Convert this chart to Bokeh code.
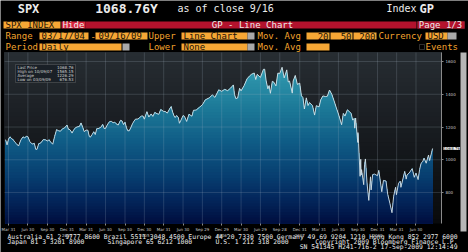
import numpy as np
import pandas as pd
from bokeh.plotting import figure
from bokeh.models import Range1d, FixedTicker, BoxAnnotation, Label
from bokeh.embed import file_html
from bokeh.resources import INLINE

# ---------------- data ----------------
dates = [
    "2004-03-17", "2004-03-24", "2004-03-31", "2004-04-07", "2004-04-15", "2004-04-21", "2004-04-30",
    "2004-05-07", "2004-05-17", "2004-05-28", "2004-06-07", "2004-06-15", "2004-06-23", "2004-06-30",
    "2004-07-09", "2004-07-16", "2004-07-23", "2004-07-30", "2004-08-06", "2004-08-12", "2004-08-20",
    "2004-08-31", "2004-09-10", "2004-09-20", "2004-09-30", "2004-10-08", "2004-10-15", "2004-10-25",
    "2004-11-03", "2004-11-12", "2004-11-22", "2004-11-30", "2004-12-10", "2004-12-20", "2004-12-31",
    "2005-01-07", "2005-01-14", "2005-01-24", "2005-01-31", "2005-02-10", "2005-02-18", "2005-02-28",
    "2005-03-07", "2005-03-15", "2005-03-22", "2005-03-31", "2005-04-08", "2005-04-15", "2005-04-20",
    "2005-04-29", "2005-05-06", "2005-05-13", "2005-05-20", "2005-05-31", "2005-06-10", "2005-06-17",
    "2005-06-24", "2005-06-30", "2005-07-08", "2005-07-15", "2005-07-22", "2005-07-29", "2005-08-05",
    "2005-08-12", "2005-08-19", "2005-08-29", "2005-09-09", "2005-09-16", "2005-09-23", "2005-09-30",
    "2005-10-07", "2005-10-13", "2005-10-20", "2005-10-28", "2005-11-04", "2005-11-11", "2005-11-18",
    "2005-11-30", "2005-12-09", "2005-12-16", "2005-12-23", "2005-12-30",
    "2006-01-11", "2006-01-20", "2006-01-31", "2006-02-08", "2006-02-17", "2006-02-28", "2006-03-08",
    "2006-03-17", "2006-03-31", "2006-04-07", "2006-04-17", "2006-04-28", "2006-05-05", "2006-05-12",
    "2006-05-19", "2006-05-24", "2006-05-31", "2006-06-08", "2006-06-13", "2006-06-20", "2006-06-30",
    "2006-07-07", "2006-07-17", "2006-07-28", "2006-08-11", "2006-08-18", "2006-08-31", "2006-09-15",
    "2006-09-29", "2006-10-13", "2006-10-31", "2006-11-15", "2006-11-27", "2006-12-15", "2006-12-29",
    "2007-01-12", "2007-01-26", "2007-02-09", "2007-02-22", "2007-02-27", "2007-03-05", "2007-03-14",
    "2007-03-23", "2007-03-30", "2007-04-13", "2007-04-27", "2007-05-09", "2007-05-18", "2007-05-31",
    "2007-06-07", "2007-06-14", "2007-06-29", "2007-07-13", "2007-07-19", "2007-07-26", "2007-08-03",
    "2007-08-09", "2007-08-15", "2007-08-24", "2007-08-31", "2007-09-10", "2007-09-19", "2007-09-28",
    "2007-10-09", "2007-10-19", "2007-10-31", "2007-11-07", "2007-11-13", "2007-11-26", "2007-11-30",
    "2007-12-10", "2007-12-20", "2007-12-31",
    "2008-01-08", "2008-01-15", "2008-01-22", "2008-01-31", "2008-02-08", "2008-02-15", "2008-02-29",
    "2008-03-10", "2008-03-18", "2008-03-31", "2008-04-08", "2008-04-18", "2008-04-30", "2008-05-09",
    "2008-05-19", "2008-05-30", "2008-06-10", "2008-06-20", "2008-06-30", "2008-07-15", "2008-07-23",
    "2008-07-31", "2008-08-11", "2008-08-22", "2008-08-29", "2008-09-05", "2008-09-12", "2008-09-15",
    "2008-09-19", "2008-09-29", "2008-09-30", "2008-10-03", "2008-10-10", "2008-10-13", "2008-10-15",
    "2008-10-17", "2008-10-27", "2008-10-31", "2008-11-04", "2008-11-12", "2008-11-20", "2008-11-28",
    "2008-12-01", "2008-12-08", "2008-12-16", "2008-12-31",
    "2009-01-06", "2009-01-20", "2009-01-28", "2009-02-09", "2009-02-17", "2009-02-27", "2009-03-09",
    "2009-03-17", "2009-03-26", "2009-03-30", "2009-04-09", "2009-04-17", "2009-04-20", "2009-05-08",
    "2009-05-15", "2009-05-19", "2009-05-29", "2009-06-12", "2009-06-22", "2009-06-30", "2009-07-10",
    "2009-07-17", "2009-07-24", "2009-07-31", "2009-08-07", "2009-08-17", "2009-08-28", "2009-09-02",
    "2009-09-11", "2009-09-16",
]
spx = [
    1123, 1091, 1126, 1140, 1128, 1124, 1107,
    1098, 1084, 1121, 1140, 1133, 1144, 1141,
    1112, 1101, 1096, 1101, 1064, 1064, 1098,
    1104, 1123, 1122, 1115, 1122, 1108, 1095,
    1143, 1184, 1177, 1174, 1189, 1195, 1212,
    1186, 1184, 1163, 1181, 1197, 1201, 1204,
    1225, 1198, 1172, 1181, 1181, 1142, 1138,
    1156, 1171, 1154, 1189, 1192, 1201, 1216,
    1191, 1191, 1211, 1227, 1234, 1234, 1226,
    1230, 1220, 1212, 1241, 1237, 1215, 1229,
    1195, 1177, 1177, 1198, 1220, 1235, 1248,
    1249, 1259, 1267, 1268, 1248,
    1294, 1261, 1280, 1265, 1289, 1281, 1278,
    1307, 1295, 1295, 1285, 1311, 1325, 1291,
    1267, 1258, 1270, 1257, 1223, 1241, 1270,
    1265, 1234, 1278, 1266, 1302, 1304, 1320,
    1336, 1366, 1378, 1396, 1381, 1427, 1418,
    1430, 1422, 1438, 1457, 1399, 1374, 1377,
    1436, 1421, 1452, 1494, 1512, 1522, 1530,
    1490, 1522, 1503, 1552, 1553, 1482, 1433,
    1453, 1406, 1479, 1474, 1451, 1529, 1527,
    1565, 1500, 1549, 1475, 1481, 1407, 1481,
    1515, 1460, 1468,
    1390, 1380, 1310, 1378, 1331, 1349, 1331,
    1273, 1330, 1323, 1366, 1390, 1386, 1388,
    1426, 1400, 1358, 1318, 1280, 1214, 1283,
    1267, 1305, 1292, 1283, 1242, 1252, 1193,
    1255, 1106, 1166, 1099, 899, 1003, 907,
    940, 848, 969, 1005, 853, 752, 896,
    816, 909, 913, 903,
    935, 805, 874, 870, 789, 735, 677,
    778, 832, 787, 857, 869, 832, 929,
    882, 908, 919, 946, 893, 919, 879,
    940, 979, 987, 1010, 979, 1029, 995,
    1042, 1069,
]

tick_dates = [
    "2004-03-31", "2004-06-30", "2004-09-30", "2004-12-31",
    "2005-03-31", "2005-06-30", "2005-09-30", "2005-12-30",
    "2006-03-31", "2006-06-30", "2006-09-29", "2006-12-29",
    "2007-03-30", "2007-06-29", "2007-09-28", "2007-12-31",
    "2008-03-31", "2008-06-30", "2008-09-30", "2008-12-31",
    "2009-03-31", "2009-06-30",
]
tick_labels = [
    "Mar 31", "Jun 30", "Sep 30", "Dec 31\n2004",
    "Mar 31", "Jun 30", "Sep 30", "Dec 30\n2005",
    "Mar 31", "Jun 30", "Sep 29", "Dec 29\n2006",
    "Mar 30", "Jun 29", "Sep 28", "Dec 31\n2007",
    "Mar 31", "Jun 30", "Sep 30", "Dec 31\n2008",
    "Mar 31", "Jun 30",
]
price_ticks = [800, 1000, 1200, 1400, 1600]

legend_names = ["Last Price", "High on 10/09/07", "Average", "Low on 03/09/09"]
legend_values = ["1068.76", "1565.15", "1226.29", "676.53"]
last_price = 1068.76

# ---------------- layout & styles ----------------
W, H = 468, 252
CH_LEFT, CH_RIGHT, CH_TOP, CH_BOTTOM = 4, 441, 52, 223   # chart panel in canvas pixels
X_START, X_END = pd.Timestamp("2004-03-12"), pd.Timestamp("2009-10-28")
Y_LO, Y_HI = 611, 1655

MONO = "DejaVu Sans Mono"
ORANGE = "#f4a42e"
BOXORANGE = "#f6a735"
INK = "#1a1208"
RED = "#b3122d"
GREY = "#a9a9a9"
WHITE = "#ececec"

fill_stops = [(611, "#000e3e"), (750, "#03255a"), (900, "#073e70"), (1100, "#0f5b85"),
              (1300, "#1b7796"), (1500, "#2c92aa"), (1655, "#48adbf")]
bg_stops = [(611, "#090a0c"), (1000, "#131619"), (1300, "#1c2025"), (1655, "#272d33")]


def interp(stops, v):
    vs = [s[0] for s in stops]
    cols = [tuple(int(s[1][i:i + 2], 16) for i in (1, 3, 5)) for s in stops]
    rgb = [np.interp(v, vs, [c[k] for c in cols]) for k in range(3)]
    return "#%02x%02x%02x" % tuple(int(round(c)) for c in rgb)


x = pd.to_datetime(dates)
price = np.array(spx, dtype=float)

xs_ms, xe_ms = X_START.value / 1e6, X_END.value / 1e6
ms_per_px = (xe_ms - xs_ms) / (CH_RIGHT - CH_LEFT)
u_per_px = (Y_HI - Y_LO) / (CH_BOTTOM - CH_TOP)
x_range = Range1d(xs_ms - CH_LEFT * ms_per_px, xe_ms + (W - CH_RIGHT) * ms_per_px)
y_range = Range1d(Y_LO - (H - CH_BOTTOM) * u_per_px, Y_HI + CH_TOP * u_per_px)

p = figure(width=W, height=H, x_axis_type="datetime", y_axis_location="right",
           x_range=x_range, y_range=y_range,
           output_backend="svg", toolbar_location=None,
           min_border_left=0, min_border_right=0, min_border_top=0, min_border_bottom=0,
           background_fill_color="#000000", border_fill_color="#000000",
           outline_line_color=None)
p.grid.visible = False

# chart background gradient
bg_edges = np.linspace(Y_LO, Y_HI, 41)
for i in range(40):
    c = interp(bg_stops, (bg_edges[i] + bg_edges[i + 1]) / 2)
    p.quad(left=xs_ms, right=xe_ms, bottom=bg_edges[i], top=Y_HI, fill_color=c, line_color=None)

# area with vertical gradient
fe = np.linspace(Y_LO, Y_HI, 61)
for i in range(59, -1, -1):
    if fe[i] > price.max():
        continue
    c = interp(fill_stops, (fe[i] + fe[i + 1]) / 2)
    p.varea(x=x, y1=Y_LO, y2=np.minimum(price, fe[i + 1]), fill_color=c)

# grid lines (over the area, limited to the chart panel)
tick_ms = [int(pd.Timestamp(d).value // 10**6) for d in tick_dates]
p.segment(x0=tick_ms, x1=tick_ms, y0=Y_LO, y1=Y_HI, line_color="#a8b8c8", line_alpha=0.2, line_width=1)
p.segment(x0=xs_ms, x1=xe_ms, y0=price_ticks, y1=price_ticks, line_color="#a8b8c8", line_alpha=0.2, line_width=1)

p.line(x, price, line_color="#d6e2e8", line_width=0.9)

# axes placed at the chart panel edges
xa = p.xaxis[0]
xa.fixed_location = Y_LO
xa.bounds = (xs_ms, xe_ms)
xa.ticker = FixedTicker(ticks=tick_ms)
xa.major_label_overrides = {t: l for t, l in zip(tick_ms, tick_labels)}
xa.major_label_text_font_size = "4px"
xa.major_label_text_color = "#c8c8c8"
xa.major_label_text_font = "DejaVu Sans"
xa.axis_line_color = None
xa.major_tick_line_color = "#8a8a8a"
xa.major_tick_out = 2
xa.major_tick_in = 0
xa.minor_tick_line_color = None
xa.major_label_standoff = 1

ya = p.yaxis[0]
ya.fixed_location = xe_ms
ya.bounds = (Y_LO, Y_HI)
ya.ticker = FixedTicker(ticks=price_ticks)
ya.major_label_text_font_size = "4px"
ya.major_label_text_color = "#c8c8c8"
ya.major_label_text_font = "DejaVu Sans"
ya.axis_line_color = "#8a8a8a"
ya.major_tick_line_color = "#8a8a8a"
ya.major_tick_out = 2
ya.major_tick_in = 0
ya.minor_tick_line_color = None
ya.major_label_standoff = 2


def box(l, t, r, b, color, line=None):
    p.add_layout(BoxAnnotation(left=l, right=r, top=t, bottom=b,
                               left_units="canvas", right_units="canvas",
                               top_units="canvas", bottom_units="canvas",
                               fill_color=color, fill_alpha=1.0,
                               line_color=line, line_width=1 if line else 0))


def txt(xp, yp, s, size=9, color=ORANGE, align="left", bold=False, font=MONO):
    p.add_layout(Label(x=xp, y=yp, x_units="canvas", y_units="canvas", text=s, text_font=font,
                       text_font_size=f"{size}px", text_color=color, text_align=align,
                       text_baseline="middle", text_font_style="bold" if bold else "normal"))


# header boxes
box(3, 21, 60, 28, BOXORANGE)
box(61, 21, 85, 28, "#d8233c")
box(85, 21, 416, 28, RED)
box(417, 21, 464, 28, RED, "#d04050")
box(39, 32, 88, 39, BOXORANGE)
box(95, 32, 147, 39, BOXORANGE)
box(181, 32, 247, 39, BOXORANGE)
box(247, 32, 254, 39, GREY)
box(306, 32, 329, 39, BOXORANGE)
box(330, 32, 352, 39, BOXORANGE)
box(353, 32, 376, 39, BOXORANGE)
box(425, 32, 447, 39, BOXORANGE)
box(447, 32, 456, 39, GREY)
box(39, 43, 121, 50, BOXORANGE)
box(122, 43, 129, 50, GREY)
box(181, 43, 247, 50, BOXORANGE)
box(247, 43, 254, 50, GREY)
box(306, 43, 329, 50, BOXORANGE)
box(419, 44, 424, 49, "#000000", "#9a9a9a")

# legend box & scrollbar
box(15, 64, 75, 82, "#1a2027", "#8c8c8c")
box(460, 52, 466, 231, "#b6b6b6")

# header texts
txt(28, 8, "SPX", size=12, color=WHITE, align="center", bold=True)
txt(126, 8, "1068.76Y", size=13, color=WHITE, align="center", bold=True)
txt(177, 8, "as of close 9/16", size=10, color=WHITE)
txt(386, 8, "Index", size=10, color=WHITE)
txt(419, 8, "GP", size=12, color=WHITE, bold=True)

txt(5, 24.5, "SPX INDEX", color=INK)
txt(73, 24.5, "Hide", color=WHITE, align="center")
txt(252, 24.5, "GP - Line Chart", color=WHITE, align="center")
txt(440, 24.5, "Page 1/3", color=WHITE, align="center")

txt(5, 35.5, "Range")
txt(41, 35.5, "03/17/04", color=INK)
txt(90, 35.5, "-")
txt(98, 35.5, "09/16/09", color=INK)
txt(148, 35.5, "Upper")
txt(183, 35.5, "Line Chart", color=INK)
txt(257, 35.5, "Mov. Avg")
txt(328, 35.5, "20", color=INK, align="right")
txt(351, 35.5, "50", color=INK, align="right")
txt(375, 35.5, "200", color=INK, align="right")
txt(378, 35.5, "Currency")
txt(427, 35.5, "USD", color=INK)

txt(5, 46.5, "Period")
txt(41, 46.5, "Daily", color=INK)
txt(148, 46.5, "Lower")
txt(183, 46.5, "None", color=INK)
txt(257, 46.5, "Mov. Avg")
txt(425, 46.5, "Events")

# legend texts
for k, (nm, vv) in enumerate(zip(legend_names, legend_values)):
    txt(17, 66.5 + 4 * k, nm, size=4, color="#d0d0d0", font="DejaVu Sans")
    txt(73, 66.5 + 4 * k, vv, size=4, color="#d0d0d0", align="right", font="DejaVu Sans")

# last price tag on the axis
p.add_layout(Label(x=443, y=last_price, x_units="canvas", y_units="data", text="1068.76",
                   text_font="DejaVu Sans", text_font_size="4px", text_color="#111111",
                   text_baseline="middle", background_fill_color="#f2f2f2"))

# footer
FS = 6.4
txt(7, 236, "Australia 61 2 9777 8600 Brazil 5511 3048 4500 Europe 44 20 7330 7500 "
            "Germany 49 69 9204 1210 Hong Kong 852 2977 6000", size=FS, color=WHITE)
txt(7, 241, "Japan 81 3 3201 8900", size=FS, color=WHITE)
txt(107, 241, "Singapore 65 6212 1000", size=FS, color=WHITE)
txt(215, 241, "U.S. 1 212 318 2000", size=FS, color=WHITE)
txt(457, 241, "Copyright 2009 Bloomberg Finance L.P.", size=FS, color=WHITE, align="right")
txt(457, 246.5, "SN 541345 H241-716-2 17-Sep-2009 12:14:49", size=FS, color=WHITE, align="right")

open("out.html", "w").write(file_html(p, INLINE))
